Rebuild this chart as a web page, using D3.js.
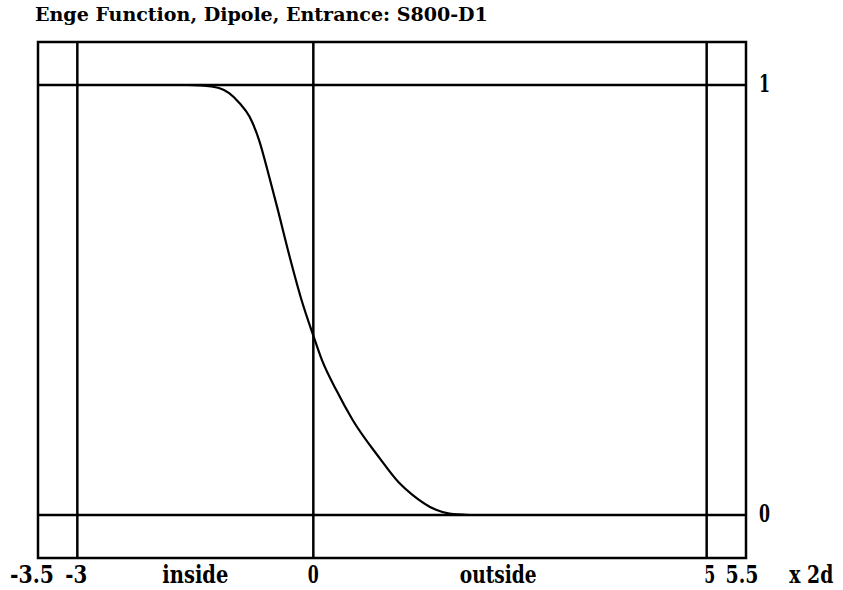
<!DOCTYPE html>
<html>
<head>
<meta charset="utf-8">
<script src="https://cdn.jsdelivr.net/npm/d3@7"></script>
<style>
  body { margin: 0; background: white; }
  text { font-family: "DejaVu Serif", "Liberation Serif", serif; fill: black; }
</style>
</head>
<body>
<div id="chart"></div>
<script>
var svgWidth = 843;
var svgHeight = 590;

var titleText = "Enge Function, Dipole, Entrance: S800-D1";

// Enge function
var engeX = [-1.6, -1.45, -1.2, -1.07, -0.94, -0.81, -0.69, -0.56, -0.46, -0.30, -0.15, 0, 0.11, 0.29, 0.50, 0.84, 1.09, 1.26, 1.56, 1.73, 1.98];
var engeY = [1.0, 0.999, 0.993, 0.981, 0.958, 0.926, 0.872, 0.786, 0.716, 0.600, 0.500, 0.417, 0.360, 0.291, 0.221, 0.133, 0.075, 0.047, 0.012, 0.003, 0.0];

var xDomain = [-3.5, 5.5];
var yDomain = [-0.1, 1.1];
var gridX = [-3, 0, 5];
var gridY = [0, 1];
var xTicks = [-3.5, -3, 0, 5, 5.5];
var xTickText = ["-3.5", "-3", "0", "5", "5.5"];
var yTicks = [1, 0];
var yTickText = ["1", "0"];
var regionLabels = ["inside", "outside", "x 2d"];
var regionPos = [-1.5, 2.35, 6.33];

var frame = {left: 38, right: 746, top: 42, bottom: 558};

var xScale = d3.scaleLinear().domain(xDomain).range([frame.left, frame.right]);
var yScale = d3.scaleLinear().domain(yDomain).range([frame.bottom, frame.top]);

var svg = d3.select('div#chart')
	.append('svg')
	.attr('width', svgWidth)
	.attr('height', svgHeight)
	.style('background-color', 'white');

// the original font is a narrow monospace, so every glyph gets the same advance;
// measure the real width and squeeze it horizontally to fit
var monoText = function(x, y, str, size, advance, anchor) {
	var t = svg.append('text')
		.attr('text-anchor', anchor)
		.style('font-size', size + 'px')
		.style('font-weight', 'bold')
		.text(str);
	var natural = t.node().getComputedTextLength();
	var sx = (str.length * advance) / natural;
	t.attr('transform', 'translate(' + x + ',' + y + ') scale(' + sx + ',1)');
	return t;
}

monoText(35, 21, titleText, 18, 11.33, 'start');

// frame
svg.append('rect')
	.attr('x', frame.left)
	.attr('y', frame.top)
	.attr('width', frame.right - frame.left)
	.attr('height', frame.bottom - frame.top)
	.attr('fill', 'none')
	.attr('stroke', 'black')
	.attr('stroke-width', 2.5);

svg.append('g').selectAll('line')
	.data(gridX)
	.enter()
	.append('line')
	.attr('x1', function(d){return xScale(d);})
	.attr('x2', function(d){return xScale(d);})
	.attr('y1', frame.top)
	.attr('y2', frame.bottom)
	.attr('stroke', 'black')
	.attr('stroke-width', 2.5);

svg.append('g').selectAll('line')
	.data(gridY)
	.enter()
	.append('line')
	.attr('x1', frame.left)
	.attr('x2', frame.right)
	.attr('y1', function(d){return yScale(d);})
	.attr('y2', function(d){return yScale(d);})
	.attr('stroke', 'black')
	.attr('stroke-width', 2.5);

var line = d3.line()
	.x(function(d){return xScale(d[0]);})
	.y(function(d){return yScale(d[1]);})
	.curve(d3.curveMonotoneX);

svg.append('path')
	.datum(d3.zip(engeX, engeY))
	.attr('d', line)
	.attr('fill', 'none')
	.attr('stroke', 'black')
	.attr('stroke-width', 2.2);

// labels under the frame, nudged a little like the original
var nudge = [-6, -1, 0, 3, -4];
for (var i = 0; i < xTicks.length; i++) {
	monoText(xScale(xTicks[i]) + nudge[i], 583, xTickText[i], 24, 11, 'middle');
}
for (var i = 0; i < regionLabels.length; i++) {
	monoText(xScale(regionPos[i]), 583, regionLabels[i], 24, 11, 'middle');
}
for (var i = 0; i < yTicks.length; i++) {
	monoText(759, yScale(yTicks[i]) + 7, yTickText[i], 24, 11, 'start');
}
</script>
</body>
</html>
